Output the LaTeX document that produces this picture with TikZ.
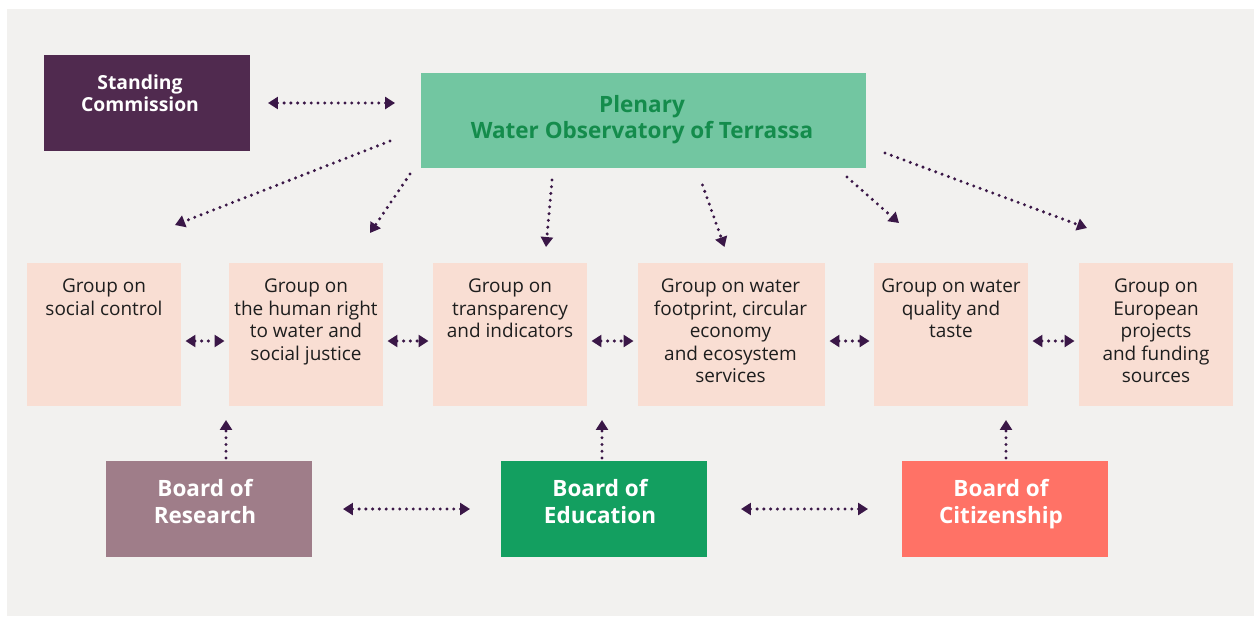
\documentclass[tikz,border=0pt]{standalone}
\usepackage{fontspec}
\setmainfont{Open Sans}
\usetikzlibrary{arrows.meta}
\definecolor{bgc}{HTML}{F2F1EF}
\definecolor{standc}{HTML}{502A4F}
\definecolor{plenc}{HTML}{72C6A1}
\definecolor{pltextc}{HTML}{148C4C}
\definecolor{groupc}{HTML}{F9DED3}
\definecolor{resc}{HTML}{9F7D89}
\definecolor{educ}{HTML}{139F60}
\definecolor{citc}{HTML}{FF7266}
\definecolor{arrowc}{HTML}{3A1747}
\definecolor{txtc}{HTML}{1E1E1E}

\begin{document}
\begin{tikzpicture}[x=0.02cm, y=-0.02cm,
  >={Triangle[length=0.2cm,width=0.24cm]},
  box/.style={rectangle, inner sep=0pt, outer sep=0pt},
  grp/.style={box, fill=groupc, minimum width=3.08cm, minimum height=2.86cm},
  board/.style={box, minimum width=4.12cm, minimum height=1.92cm},
  grptxt/.style={anchor=north, inner sep=0pt, align=center, text=txtc, font=\fontsize{10.8}{12.8}\selectfont},
  boardtxt/.style={anchor=north, inner sep=0pt, align=center, text=white, font=\fontsize{12.8}{15.5}\selectfont\bfseries},
  link/.style={draw=arrowc, line width=1.9pt, line cap=round, dash pattern=on 0pt off 3.85pt}]
\useasboundingbox (0,0) rectangle (1254,616);
\fill[white] (0,0) rectangle (1254,616);
\fill[bgc] (7,9) rectangle (1254,616);

\node[board, fill=standc] (sc) at (147,103) {};
\node[boardtxt, font=\fontsize{11}{12.75}\selectfont\bfseries] (sct) at (140,74) {Standing\\Commission};
\node[box, fill=plenc, minimum width=8.9cm, minimum height=1.9cm] (pl) at (643.5,120.5) {};
\node[boardtxt, text=pltextc, font=\fontsize{12.8}{14.8}\selectfont\bfseries] (plt) at (642,95) {Plenary\\Water Observatory of Terrassa};

\node[grp] (g1) at (104,334.5) {};
\node[grp] (g2) at (306,334.5) {};
\node[grp] (g3) at (510,334.5) {};
\node[grp, minimum width=3.74cm] (g4) at (731.5,334.5) {};
\node[grp] (g5) at (951,334.5) {};
\node[grp] (g6) at (1156,334.5) {};
\node[grptxt] (g1t) at (104,278.5) {Group on\\social control};
\node[grptxt] (g2t) at (306,278.5) {Group on\\the human right\\to water and\\social justice};
\node[grptxt] (g3t) at (510,278.5) {Group on\\transparency\\and indicators};
\node[grptxt] (g4t) at (730.5,278.5) {Group on water\\footprint, circular\\economy\\and ecosystem\\services};
\node[grptxt] (g5t) at (951,278.5) {Group on water\\quality and\\taste};
\node[grptxt] (g6t) at (1156,278.5) {Group on\\European\\projects\\and funding\\sources};

\node[board, fill=resc] (bres) at (209,509) {};
\node[board, fill=educ] (bedu) at (604,509) {};
\node[board, fill=citc] (bcit) at (1005,509) {};
\node[boardtxt] (brest) at (205,478.5) {Board of\\Research};
\node[boardtxt] (bedut) at (600,478.5) {Board of\\Education};
\node[boardtxt] (bcitt) at (1001,478.5) {Board of\\Citizenship};

\draw[link,<->,shorten <=0.36cm,shorten >=0.52cm] (sc.east) -- (sc.east -| pl.west);

\draw[link,->] ([shift={(-31,-27)}]pl.south west) -- ([shift={(-6,-38)}]g1.north east);
\draw[link,->] ([shift={(-11,6)}]pl.south west) -- ([shift={(-13,-30)}]g2.north east);
\draw[link,->] ([shift={(131,12)}]pl.south west) -- ([shift={(36,-16)}]g3.north);
\draw[link,->] ([shift={(59,17)}]pl.south) -- ([shift={(-7,-16)}]g4.north);
\draw[link,->] ([shift={(-19,9)}]pl.south east) -- ([shift={(-52,-40)}]g5.north);
\draw[link,->] ([shift={(19,-15)}]pl.south east) -- ([shift={(-69,-35)}]g6.north);

\foreach \a/\b in {g1/g2,g2/g3,g3/g4,g4/g5,g5/g6}
  \draw[link,<->,shorten <=0.09cm,shorten >=0.09cm] ([shift={(0,6.5)}]\a.east) -- ([shift={(0,6.5)}]\b.west);

\draw[link,->,shorten <=0.06cm,shorten >=0.28cm] ([shift={(17,0)}]bres.north) -- ([shift={(17,0)}]bres.north |- g2.south);
\draw[link,->,shorten <=0.06cm,shorten >=0.28cm] ([shift={(-2,0)}]bedu.north) -- ([shift={(-2,0)}]bedu.north |- g3.south);
\draw[link,->,shorten <=0.06cm,shorten >=0.28cm] ([shift={(1,0)}]bcit.north) -- ([shift={(1,0)}]bcit.north |- g5.south);

\draw[link,<->,shorten <=0.62cm,shorten >=0.62cm] (bres.east) -- (bedu.west);
\draw[link,<->,shorten <=0.68cm,shorten >=0.68cm] (bedu.east) -- (bcit.west);
\end{tikzpicture}
\end{document}
